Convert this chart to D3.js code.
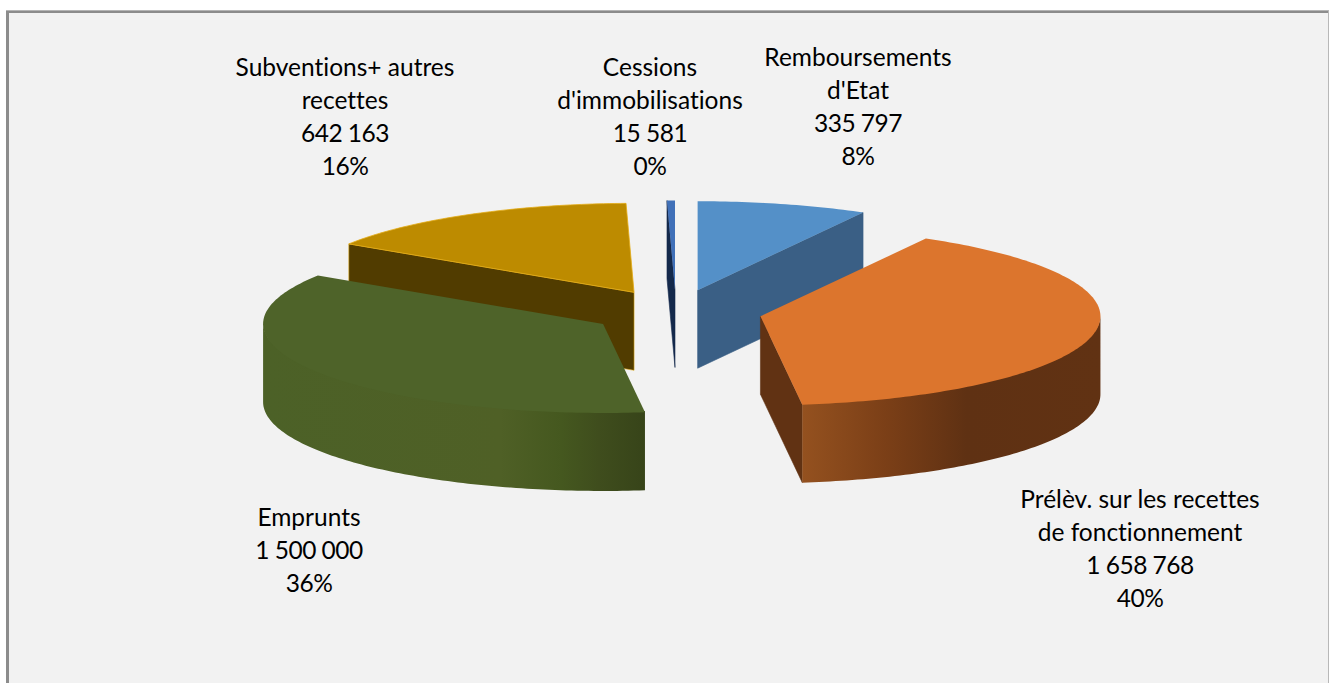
<!DOCTYPE html>
<html><head><meta charset="utf-8">
<script src="https://cdn.jsdelivr.net/npm/d3@7/dist/d3.min.js"></script>
<style>html,body{margin:0;padding:0;background:#fff;overflow:hidden}svg{display:block}text{font-variant-ligatures:none}</style>
</head><body><svg id="c" width="1329" height="683"></svg>
<script>
const categories = ["Remboursements d'Etat","Prélèv. sur les recettes de fonctionnement","Emprunts","Subventions+ autres recettes","Cessions d'immobilisations"];
const values = [335797,1658768,1500000,642163,15581];
const valueLabels = ["335 797","1 658 768","1 500 000","642 163","15 581"];
const percentLabels = ["8%","40%","36%","16%","0%"];
const labelLines = [["Remboursements","d'Etat"],["Prélèv. sur les recettes","de fonctionnement"],["Emprunts"],["Subventions+ autres","recettes"],["Cessions","d'immobilisations"]];
const topColors = ["#5490c8","#dc752d","#4e6329","#bd8b00","#4070b8"];
const sideColors = ["#3a5f85","#613213","#3f4f1f","#513c00","#14294b"];
const strokeColors = ["none","none","none","#e3ab14","none"];
const wallStops = [null,
 [[0,"#94511f"],[0.28,"#7b3f17"],[0.55,"#5f3113"],[1,"#613213"]],
 [[0,"#4c6127"],[0.62,"#4f6026"],[0.78,"#45581f"],[0.88,"#3f4d1d"],[1,"#374419"]],
 null,null];
const drawOrder = [0,4,3,1,2];
const labelCenter = [[858,57],[1140,499],[309,517],[345,67],[650,67]];
const lineStep = 33;

const W=1329,H=683,cx=676,cy=312,rx=340,ry=89,depth=78,explode=0.253;
const svg=d3.select("#c");
const x=d3.scaleLinear().domain([-1,1]).range([cx-rx,cx+rx]);
const y=d3.scaleLinear().domain([-1,1]).range([cy-ry,cy+ry]);
const arcs=d3.pie().sort(null).value(d=>d)(values);
const defs=svg.append("defs");

svg.append("rect").attr("x",6).attr("y",10).attr("width",W-6).attr("height",H-10).attr("fill","#8c8c8c");
svg.append("rect").attr("x",6).attr("y",10).attr("width",W-6).attr("height",1).attr("fill","#b5b5b5");
svg.append("rect").attr("x",1328).attr("y",10).attr("width",1).attr("height",H-10).attr("fill","#b8b8b8");
svg.append("rect").attr("x",9).attr("y",13).attr("width",W-10).attr("height",H-13).attr("fill","#f2f2f2");

const pt=(a,off,r=1,dz=0)=>[x(off[0]+r*Math.sin(a)),y(off[1]-r*Math.cos(a))+dz];
const line=d3.line();
const samples=(a0,a1)=>{const n=Math.max(2,Math.ceil(Math.abs(a1-a0)*60));return d3.range(n+1).map(i=>a0+(a1-a0)*i/n);};

drawOrder.forEach(i=>{
  const d=arcs[i],mid=(d.startAngle+d.endAngle)/2;
  const off=[explode*Math.sin(mid),-explode*Math.cos(mid)];
  const g=svg.append("g").attr("class","slice");
  const sc=strokeColors[i];
  const sw=sc==="none"?0:0.8;
  [[d.startAngle,Math.sin(d.startAngle)<-1e-9],[d.endAngle,Math.sin(d.endAngle)>1e-9]].forEach(([a,vis])=>{
    if(!vis)return;
    const c=pt(0,off,0),o=pt(a,off);
    g.append("path").attr("d",line([c,o,[o[0],o[1]+depth],[c[0],c[1]+depth]])+"Z")
      .attr("fill",sideColors[i]).attr("stroke",sc==="none"?sideColors[i]:sc)
      .attr("stroke-opacity",sc==="none"?1:0.7).attr("stroke-width",sc==="none"?0.6:0.8);
  });
  const w0=Math.max(d.startAngle,Math.PI/2),w1=Math.min(d.endAngle,3*Math.PI/2);
  if(w1>w0){
    let fill=sideColors[i];
    const ps=samples(w0,w1).map(a=>pt(a,off));
    if(wallStops[i]){
      const xs=ps.map(p=>p[0]);
      const id="wall"+i;
      const gr=defs.append("linearGradient").attr("id",id).attr("gradientUnits","userSpaceOnUse")
        .attr("x1",d3.min(xs)).attr("x2",d3.max(xs)).attr("y1",0).attr("y2",0);
      wallStops[i].forEach(s=>gr.append("stop").attr("offset",s[0]).attr("stop-color",s[1]));
      fill=`url(#${id})`;
    }
    const lower=ps.map(p=>[p[0],p[1]+depth]).reverse();
    const upper=ps.map(p=>[p[0],p[1]-1.2]);
    g.append("path").attr("d",line(upper.concat(lower))+"Z").attr("fill",fill);
  }
  const c=pt(0,off,0);
  const rim=samples(d.startAngle,d.endAngle).map(a=>pt(a,off));
  g.append("path").attr("d",line([c].concat(rim))+"Z").attr("fill",topColors[i]).attr("stroke",sc).attr("stroke-width",sw);
});

const txt=svg.append("g").attr("font-family","Lato, sans-serif").attr("font-size",24.5).attr("fill","#000").attr("text-anchor","middle");
categories.forEach((c,i)=>{
  const names=labelLines[i], ls=names.concat([valueLabels[i],percentLabels[i]]);
  ls.forEach((t,j)=>{
    txt.append("text").attr("x",labelCenter[i][0]).attr("y",labelCenter[i][1]+j*lineStep+9)
      .attr("letter-spacing",j>=names.length?-0.5:0).text(t);
  });
});
</script></body></html>
